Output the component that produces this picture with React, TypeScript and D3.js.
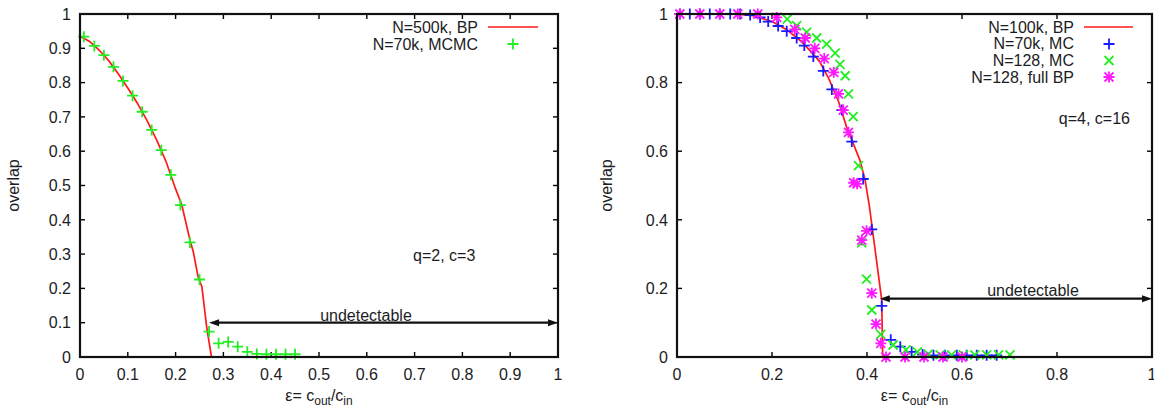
import React from "react";
import * as d3 from "d3";

// ---------- Data ----------
// Left panel (q=2, c=3)
const leftBP: [number, number][] = [
  [0, 0.935], [0.02, 0.92], [0.04, 0.895], [0.06, 0.864], [0.08, 0.826], [0.1, 0.784],
  [0.12, 0.74], [0.14, 0.69], [0.16, 0.634], [0.18, 0.57], [0.2, 0.49], [0.213, 0.443],
  [0.23, 0.341], [0.237, 0.307], [0.247, 0.234], [0.255, 0.205], [0.265, 0.088], [0.275, 0],
];
const leftMCMC: [number, number][] = [
  [0.008, 0.934], [0.03, 0.907], [0.05, 0.88], [0.07, 0.846], [0.09, 0.805], [0.11, 0.762],
  [0.13, 0.715], [0.15, 0.662], [0.17, 0.603], [0.19, 0.531], [0.21, 0.443], [0.23, 0.334],
  [0.25, 0.226], [0.27, 0.074], [0.29, 0.04], [0.31, 0.044], [0.33, 0.03], [0.35, 0.015],
  [0.37, 0.009], [0.39, 0.008], [0.41, 0.008], [0.43, 0.008], [0.45, 0.008],
];
const leftTicksX = [0, 0.1, 0.2, 0.3, 0.4, 0.5, 0.6, 0.7, 0.8, 0.9, 1];
const leftTicksY = [0, 0.1, 0.2, 0.3, 0.4, 0.5, 0.6, 0.7, 0.8, 0.9, 1];
const leftArrow = { x0: 0.27, x1: 1, y: 0.1 };

// Right panel (q=4, c=16)
const rightBP: [number, number][] = [
  [0, 1], [0.12, 1], [0.16, 0.995], [0.2, 0.978], [0.23, 0.955], [0.26, 0.922],
  [0.28, 0.893], [0.3, 0.862], [0.32, 0.81], [0.34, 0.745], [0.357, 0.671], [0.385, 0.574],
  [0.396, 0.516], [0.405, 0.44], [0.431, 0.166], [0.433, 0],
];
const rightMC70k: [number, number][] = [
  [0.006, 1], [0.027, 1], [0.048, 1], [0.069, 1], [0.09, 1], [0.112, 1], [0.133, 1],
  [0.154, 0.997], [0.175, 0.99], [0.192, 0.978], [0.213, 0.965], [0.231, 0.95], [0.252, 0.93],
  [0.268, 0.908], [0.287, 0.876], [0.308, 0.834], [0.326, 0.78], [0.347, 0.72], [0.368, 0.628],
  [0.392, 0.519], [0.41, 0.372], [0.431, 0.149], [0.45, 0.05], [0.47, 0.03], [0.494, 0.015],
  [0.517, 0.007], [0.54, 0.005], [0.564, 0.005], [0.589, 0.005], [0.61, 0.005], [0.631, 0.005],
  [0.652, 0.005], [0.673, 0.005],
];
const rightMC128: [number, number][] = [
  [0.232, 0.985], [0.252, 0.966], [0.273, 0.947], [0.294, 0.93], [0.315, 0.912], [0.333, 0.886],
  [0.343, 0.853], [0.354, 0.82], [0.361, 0.767], [0.371, 0.701], [0.382, 0.558], [0.389, 0.333],
  [0.399, 0.227], [0.41, 0.137], [0.429, 0.066], [0.455, 0.035], [0.482, 0.021], [0.506, 0.015],
  [0.529, 0.008], [0.554, 0.006], [0.578, 0.006], [0.603, 0.006], [0.627, 0.006], [0.652, 0.006],
  [0.677, 0.006], [0.701, 0.006],
];
const rightFullBP: [number, number][] = [
  [0.006, 1], [0.048, 1], [0.09, 1], [0.128, 1], [0.17, 1], [0.21, 0.99], [0.248, 0.955],
  [0.27, 0.93], [0.29, 0.9], [0.31, 0.87], [0.33, 0.83], [0.34, 0.767], [0.35, 0.72],
  [0.361, 0.655], [0.372, 0.508], [0.379, 0.505], [0.389, 0.341], [0.399, 0.368], [0.41, 0.186],
  [0.419, 0.096], [0.429, 0.04], [0.44, 0], [0.48, 0], [0.52, 0], [0.56, 0], [0.6, 0],
];
const rightTicksX = [0, 0.2, 0.4, 0.6, 0.8, 1];
const rightTicksY = [0, 0.2, 0.4, 0.6, 0.8, 1];
const rightArrow = { x0: 0.427, x1: 1, y: 0.17 };

const leftLegend = ["N=500k, BP", "N=70k, MCMC"];
const rightLegend = ["N=100k, BP", "N=70k, MC", "N=128, MC", "N=128, full BP"];

// ---------- Styling ----------
const FONT = "'Liberation Sans', Arial, Helvetica, sans-serif";
const TXT = "#1c1c24";
const RED = "#ff1a1a";
const GREEN = "#22ee22";
const BLUE = "#1a1aff";
const MAGENTA = "#ff19ff";

type Marker = "plus" | "cross" | "star";
const markerPath = (m: Marker) => {
  const p = "M-5.5,0H5.5M0,-5.5V5.5";
  const c = "M-4.5,-4.5L4.5,4.5M-4.5,4.5L4.5,-4.5";
  if (m === "plus") return p;
  if (m === "cross") return c;
  return p + c;
};

const fmt = (v: number) => (v === 0 ? "0" : v === 1 ? "1" : String(+v.toFixed(1)));

function Panel(props: {
  x0: number; x1: number; y0: number; y1: number;
  ticksX: number[]; ticksY: number[];
  arrow: { x0: number; x1: number; y: number };
  ylabelX: number;
  children: (sx: d3.ScaleLinear<number, number>, sy: d3.ScaleLinear<number, number>) => React.ReactNode;
}) {
  const { x0, x1, y0, y1, ticksX, ticksY, arrow, ylabelX } = props;
  const sx = d3.scaleLinear().domain([0, 1]).range([x0, x1]);
  const sy = d3.scaleLinear().domain([0, 1]).range([y0, y1]);
  const tl = 5;
  const cx = (x0 + x1) / 2;
  return (
    <g>
      {ticksX.map((t) => (
        <g key={"tx" + t}>
          <line x1={sx(t)} x2={sx(t)} y1={y0} y2={y0 - tl} stroke="#000" strokeWidth={1.4} />
          <line x1={sx(t)} x2={sx(t)} y1={y1} y2={y1 + tl} stroke="#000" strokeWidth={1.4} />
          <text x={sx(t)} y={380} textAnchor="middle" fontSize={16} fill={TXT} fontFamily={FONT}>{fmt(t)}</text>
        </g>
      ))}
      {ticksY.map((t) => (
        <g key={"ty" + t}>
          <line x1={x0} x2={x0 + tl} y1={sy(t)} y2={sy(t)} stroke="#000" strokeWidth={1.4} />
          <line x1={x1} x2={x1 - tl} y1={sy(t)} y2={sy(t)} stroke="#000" strokeWidth={1.4} />
          <text x={x0 - 9} y={sy(t)} dy="0.36em" textAnchor="end" fontSize={16} fill={TXT} fontFamily={FONT}>{fmt(t)}</text>
        </g>
      ))}
      {props.children(sx, sy)}
      <line x1={sx(arrow.x0) + 6} x2={sx(arrow.x1) - 6} y1={sy(arrow.y)} y2={sy(arrow.y)} stroke="#111" strokeWidth={2.2} />
      <path d={`M${sx(arrow.x0)},${sy(arrow.y)}l10,-3.5v7z`} fill="#111" />
      <path d={`M${sx(arrow.x1)},${sy(arrow.y)}l-10,-3.5v7z`} fill="#111" />
      <rect x={x0} y={y1} width={x1 - x0} height={y0 - y1} fill="none" stroke="#111" strokeWidth={2.2} />
      <text x={ylabelX} y={(y0 + y1) / 2} transform={`rotate(-90 ${ylabelX} ${(y0 + y1) / 2})`} textAnchor="middle" fontSize={16} fill={TXT} fontFamily={FONT}>overlap</text>
      <text x={cx} y={401} textAnchor="middle" fontSize={16} fill={TXT} fontFamily={FONT}>
        ε= c<tspan fontSize={12} dy={4}>out</tspan><tspan dy={-4}>/c</tspan><tspan fontSize={12} dy={4}>in</tspan>
      </text>
    </g>
  );
}

function Points({ data, sx, sy, m, color }: { data: [number, number][]; sx: any; sy: any; m: Marker; color: string }) {
  return (
    <g>
      {data.map((d, i) => (
        <path key={i} d={markerPath(m)} transform={`translate(${sx(d[0])},${sy(d[1])})`} stroke={color} strokeWidth={1.8} fill="none" />
      ))}
    </g>
  );
}

export default function App() {
  const line = (sx: any, sy: any) => d3.line<[number, number]>().x((d) => sx(d[0])).y((d) => sy(d[1]));
  return (
    <svg width={1154} height={410} style={{ position: "absolute", left: 0, top: 0, background: "#fff" }}>
      <rect width={1154} height={410} fill="#fff" />
      <Panel x0={80} x1={558} y0={357} y1={14} ticksX={leftTicksX} ticksY={leftTicksY} arrow={leftArrow} ylabelX={19}>
        {(sx, sy) => (
          <g>
            <path d={line(sx, sy)(leftBP) || ""} fill="none" stroke={RED} strokeWidth={1.7} />
            <Points data={leftMCMC} sx={sx} sy={sy} m="plus" color={GREEN} />
            <text x={413} y={255} dy="0.36em" fontSize={16} fill={TXT} fontFamily={FONT}>q=2, c=3</text>
            <text x={366} y={315} dy="0.36em" textAnchor="middle" fontSize={16} fill={TXT} fontFamily={FONT}>undetectable</text>
            {leftLegend.map((s, i) => (
              <text key={s} x={478} y={27 + i * 17} dy="0.36em" textAnchor="end" fontSize={16} fill={TXT} fontFamily={FONT}>{s}</text>
            ))}
            <line x1={488} x2={538} y1={27} y2={27} stroke={RED} strokeWidth={1.7} />
            <path d={markerPath("plus")} transform="translate(513,44)" stroke={GREEN} strokeWidth={1.8} fill="none" />
          </g>
        )}
      </Panel>
      <Panel x0={677} x1={1152} y0={357} y1={14} ticksX={rightTicksX} ticksY={rightTicksY} arrow={rightArrow} ylabelX={612}>
        {(sx, sy) => (
          <g>
            <path d={line(sx, sy)(rightBP) || ""} fill="none" stroke={RED} strokeWidth={1.7} />
            <Points data={rightMC70k} sx={sx} sy={sy} m="plus" color={BLUE} />
            <Points data={rightMC128} sx={sx} sy={sy} m="cross" color={GREEN} />
            <Points data={rightFullBP} sx={sx} sy={sy} m="star" color={MAGENTA} />
            <text x={1130} y={118} dy="0.36em" textAnchor="end" fontSize={16} fill={TXT} fontFamily={FONT}>q=4, c=16</text>
            <text x={1033} y={290} dy="0.36em" textAnchor="middle" fontSize={16} fill={TXT} fontFamily={FONT}>undetectable</text>
            {rightLegend.map((s, i) => (
              <text key={s} x={1074} y={27 + i * 16.7} dy="0.36em" textAnchor="end" fontSize={16} fill={TXT} fontFamily={FONT}>{s}</text>
            ))}
            <line x1={1084} x2={1133} y1={27} y2={27} stroke={RED} strokeWidth={1.7} />
            <path d={markerPath("plus")} transform="translate(1109,44)" stroke={BLUE} strokeWidth={1.8} fill="none" />
            <path d={markerPath("cross")} transform="translate(1109,60.5)" stroke={GREEN} strokeWidth={1.8} fill="none" />
            <path d={markerPath("star")} transform="translate(1109,77)" stroke={MAGENTA} strokeWidth={1.8} fill="none" />
          </g>
        )}
      </Panel>
    </svg>
  );
}
